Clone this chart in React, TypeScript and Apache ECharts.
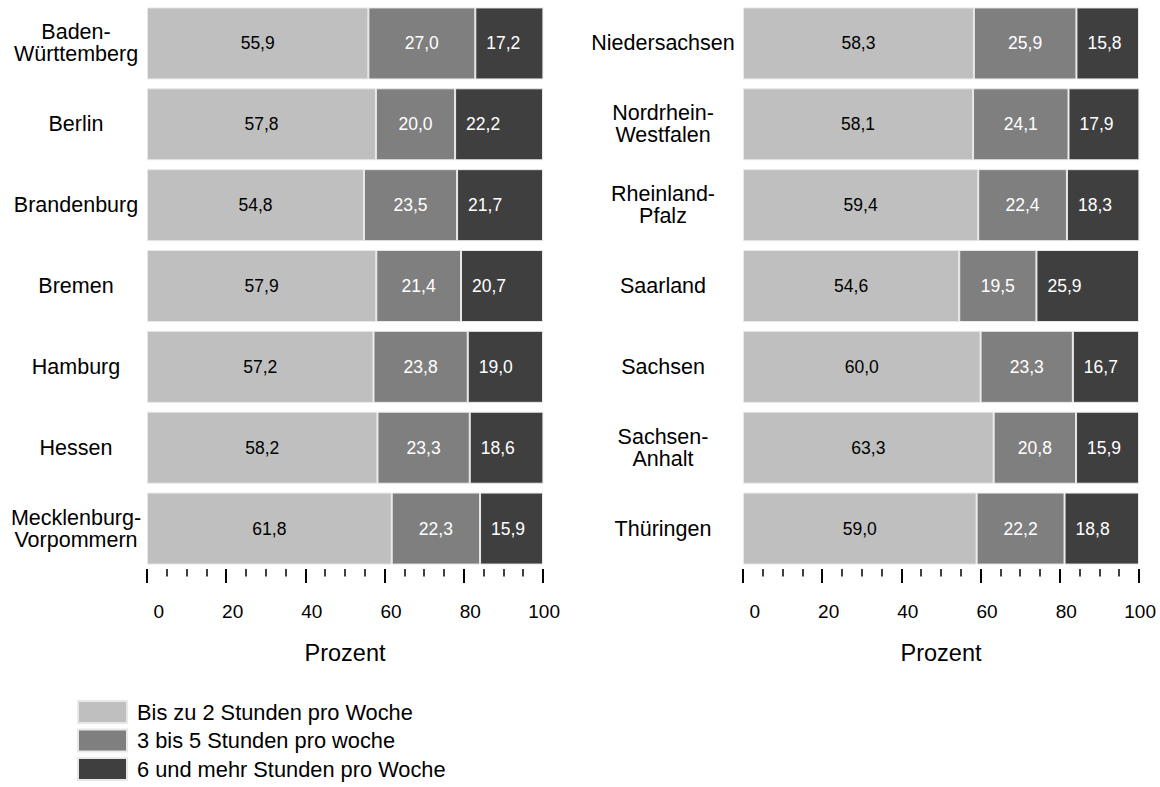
import React, { useEffect, useRef } from "react";
import * as echarts from "echarts";

const seriesNames = [
  "Bis zu 2 Stunden pro Woche",
  "3 bis 5 Stunden pro woche",
  "6 und mehr Stunden pro Woche",
];

const leftStates = [
  "Baden-\nWürttemberg",
  "Berlin",
  "Brandenburg",
  "Bremen",
  "Hamburg",
  "Hessen",
  "Mecklenburg-\nVorpommern",
];
const leftLow = [55.9, 57.8, 54.8, 57.9, 57.2, 58.2, 61.8];
const leftMid = [27.0, 20.0, 23.5, 21.4, 23.8, 23.3, 22.3];
const leftHigh = [17.2, 22.2, 21.7, 20.7, 19.0, 18.6, 15.9];

const rightStates = [
  "Niedersachsen",
  "Nordrhein-\nWestfalen",
  "Rheinland-\nPfalz",
  "Saarland",
  "Sachsen",
  "Sachsen-\nAnhalt",
  "Thüringen",
];
const rightLow = [58.3, 58.1, 59.4, 54.6, 60.0, 63.3, 59.0];
const rightMid = [25.9, 24.1, 22.4, 19.5, 23.3, 20.8, 22.2];
const rightHigh = [15.8, 17.9, 18.3, 25.9, 16.7, 15.9, 18.8];

const axisMin = 0;
const axisMax = 100;
const axisInterval = 20;
const axisName = "Prozent";

const colors = ["#bfbfbf", "#7f7f7f", "#3f3f3f"];
const FONT = "'Liberation Sans', Arial, sans-serif";

const fmt = (v: number) => v.toFixed(1).replace(".", ",");

export default function App() {
  const ref = useRef<HTMLDivElement>(null);

  useEffect(() => {
    if (!ref.current) return;
    const chart = echarts.init(ref.current, undefined, { renderer: "svg" });

    const grids = [
      { left: 147, top: 3, width: 396, height: 566 },
      { left: 743, top: 3, width: 396, height: 566 },
    ];

    const xAxisFor = (gi: number) => ({
      type: "value",
      gridIndex: gi,
      min: axisMin,
      max: axisMax,
      interval: axisInterval,
      axisLine: { show: false },
      splitLine: { show: false },
      axisTick: { show: true, length: 14, lineStyle: { color: "#000", width: 2 } },
      minorTick: { show: true, splitNumber: 4, length: 7.5, lineStyle: { color: "#000", width: 1.5 } },
      axisLabel: {
        margin: 33,
        formatter: (v: number) => `{a|${v}}`,
        rich: {
          a: { width: 34, align: "right", fontSize: 19, color: "#000", fontFamily: FONT },
        },
      },
      name: axisName,
      nameLocation: "middle",
      nameGap: 72,
      nameTextStyle: { fontSize: 23.5, color: "#000", fontFamily: FONT },
    });

    const yAxisFor = (gi: number, data: string[], margin: number) => ({
      type: "category",
      gridIndex: gi,
      data,
      inverse: true,
      axisLine: { show: false },
      axisTick: { show: false },
      axisLabel: {
        align: "center",
        margin,
        fontSize: 21.5,
        lineHeight: 22,
        color: "#000",
        fontFamily: FONT,
      },
    });

    const mkSeries = (gi: number, stack: string, vals: number[][]) =>
      vals.map((arr, si) => ({
        type: "bar",
        name: seriesNames[si],
        xAxisIndex: gi,
        yAxisIndex: gi,
        stack,
        barWidth: 72,
        data: arr,
        itemStyle: { color: colors[si], borderColor: "#e8e8e8", borderWidth: 1 },
        label: {
          show: true,
          position: si === 2 ? "insideLeft" : "inside",
          distance: si === 2 ? 11 : 5,
          formatter: (p: any) => fmt(p.value),
          fontSize: 17.5,
          color: si === 0 ? "#000" : "#fff",
          fontFamily: FONT,
        },
      }));

    chart.setOption({
      animation: false,
      textStyle: { fontFamily: FONT },
      grid: grids.map((g) => ({ ...g, containLabel: false, outerBoundsMode: "none" })),
      xAxis: [xAxisFor(0), xAxisFor(1)],
      yAxis: [yAxisFor(0, leftStates, 71), yAxisFor(1, rightStates, 80)],
      legend: {
        data: seriesNames,
        orient: "vertical",
        left: 77,
        top: 700,
        padding: 0,
        height: 86,
        icon: "rect",
        itemWidth: 49,
        itemHeight: 22,
        itemGap: 4.5,
        textStyle: {
          fontSize: 21.8,
          lineHeight: 22,
          color: "#000",
          fontFamily: FONT,
          padding: [0, 0, 0, 5],
        },
      },
      series: [
        ...mkSeries(0, "L", [leftLow, leftMid, leftHigh]),
        ...mkSeries(1, "R", [rightLow, rightMid, rightHigh]),
      ],
    });

    return () => chart.dispose();
  }, []);

  return (
    <div
      ref={ref}
      style={{ position: "fixed", left: 0, top: 0, width: 1160, height: 787, background: "#fff" }}
    />
  );
}
